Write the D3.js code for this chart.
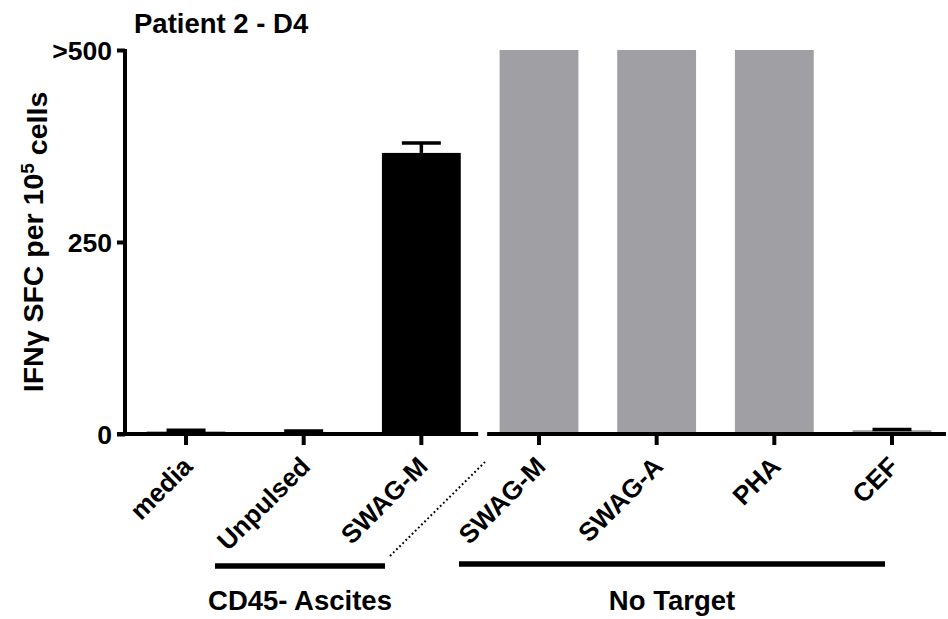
<!DOCTYPE html>
<html>
<head>
<meta charset="utf-8">
<script src="https://cdn.jsdelivr.net/npm/d3@7"></script>
<style>
  html, body { margin: 0; padding: 0; background: #fff; }
  svg { display: block; }
  text { font-family: "Liberation Sans", Arial, sans-serif; font-weight: bold; fill: #000; }
</style>
</head>
<body>
<svg id="chart" width="948" height="619"></svg>
<script>
// Stimulation conditions, in plotting order
const conditionIds = ["media", "unpulsed", "swagm1", "swagm2", "swaga", "pha", "cef"];
const conditionLabels = ["media", "Unpulsed", "SWAG-M", "SWAG-M", "SWAG-A", "PHA", "CEF"];
const conditionGroups = ["CD45- Ascites", "CD45- Ascites", "CD45- Ascites", "No Target", "No Target", "No Target", "No Target"];
// Mean spot-forming cells per 1e5 cells and error (values above 500 are capped at >500)
const meanSFC = [3, 0.5, 366, 500, 500, 500, 5];
const errSFC = [2, 3.5, 13, 0, 0, 0, 1];
// Y axis ticks
const yTickValues = [0, 250, 500];
const yTickLabels = ["0", "250", ">500"];
const groupNames = ["CD45- Ascites", "No Target"];

const svg = d3.select("#chart");

const x = d3.scaleBand()
  .domain(conditionIds)
  .range([127.2, 950.8])
  .paddingInner(0.33)
  .paddingOuter(0.165);

const y = d3.scaleLinear().domain([0, 500]).range([434, 50]);

const barColor = g => g === "CD45- Ascites" ? "#000000" : "#a0a0a4";

// Bars
svg.append("g").selectAll("rect")
  .data(conditionIds)
  .join("rect")
  .attr("x", d => x(d))
  .attr("width", x.bandwidth())
  .attr("y", (d, i) => y(meanSFC[i]))
  .attr("height", (d, i) => y(0) - y(meanSFC[i]))
  .attr("fill", (d, i) => barColor(conditionGroups[i]));

// Error bars (upper only)
const eb = svg.append("g").attr("stroke", "#000").attr("stroke-width", 3.5);
conditionIds.forEach((d, i) => {
  if (errSFC[i] <= 0) return;
  const cx = x(d) + x.bandwidth() / 2;
  const top = y(meanSFC[i] + errSFC[i]);
  eb.append("line").attr("x1", cx).attr("x2", cx).attr("y1", y(meanSFC[i])).attr("y2", top);
  eb.append("line").attr("x1", cx - 19.5).attr("x2", cx + 19.5).attr("y1", top).attr("y2", top);
});

// Y axis
const yAxis = d3.axisLeft(y)
  .tickValues(yTickValues)
  .tickFormat((d, i) => yTickLabels[i])
  .tickSize(8)
  .tickSizeOuter(0);
const gy = svg.append("g").attr("transform", "translate(125,0)").call(yAxis);
gy.select(".domain").attr("stroke-width", 4).attr("d", `M0,${y(500) - 1}V${y(0) + 2}`);
gy.selectAll(".tick line").attr("stroke-width", 4);
gy.selectAll(".tick text")
  .attr("x", -13)
  .attr("dy", "0.36em")
  .style("font-size", "26.5px")
  .style("font-family", "Liberation Sans, Arial, sans-serif")
  .style("font-weight", "bold");

// X axis: two segments with a break between the groups
const breakX = (x("swagm1") + x("swagm2") + x.bandwidth()) / 2;
const axisG = svg.append("g").attr("stroke", "#000").attr("stroke-width", 4);
axisG.append("line").attr("x1", 117).attr("x2", breakX - 2).attr("y1", y(0)).attr("y2", y(0));
axisG.append("line").attr("x1", breakX + 7).attr("x2", 946).attr("y1", y(0)).attr("y2", y(0));
conditionIds.forEach(d => {
  const cx = x(d) + x.bandwidth() / 2;
  axisG.append("line").attr("x1", cx).attr("x2", cx).attr("y1", y(0)).attr("y2", y(0) + 11);
});

// Rotated category labels
svg.append("g").selectAll("text")
  .data(conditionIds)
  .join("text")
  .attr("transform", d => `translate(${x(d) + x.bandwidth() / 2 + 8},${y(0) + 34}) rotate(-45)`)
  .attr("text-anchor", "end")
  .style("font-size", "26px")
  .text((d, i) => conditionLabels[i]);

// Group brackets
const bracketSpec = {
  "CD45- Ascites": { x1: 215, x2: 385, y: 566 },
  "No Target": { x1: 459, x2: 885, y: 564 }
};
groupNames.forEach(name => {
  const b = bracketSpec[name];
  svg.append("line")
    .attr("x1", b.x1).attr("x2", b.x2).attr("y1", b.y).attr("y2", b.y)
    .attr("stroke", "#000").attr("stroke-width", 5.5);
  svg.append("text")
    .attr("x", (b.x1 + b.x2) / 2)
    .attr("y", 610)
    .attr("text-anchor", "middle")
    .style("font-size", "27.5px")
    .text(name);
});

// Dotted connector between the two SWAG-M conditions
svg.append("line")
  .attr("x1", 390).attr("y1", 556).attr("x2", 485).attr("y2", 462)
  .attr("stroke", "#000").attr("stroke-width", 2)
  .attr("stroke-dasharray", "1.8,2.6");

// Y axis title with superscript
const yt = svg.append("text")
  .attr("transform", "translate(43,242) rotate(-90)")
  .attr("text-anchor", "middle")
  .style("font-size", "28.5px");
yt.append("tspan").text("IFNγ SFC per 10");
yt.append("tspan").attr("dy", "-0.45em").style("font-size", "19px").text("5");
yt.append("tspan").attr("dy", "0.45em").text(" cells");

// Chart title
svg.append("text")
  .attr("x", 134)
  .attr("y", 33)
  .style("font-size", "27.5px")
  .text("Patient 2 - D4");
</script>
</body>
</html>
